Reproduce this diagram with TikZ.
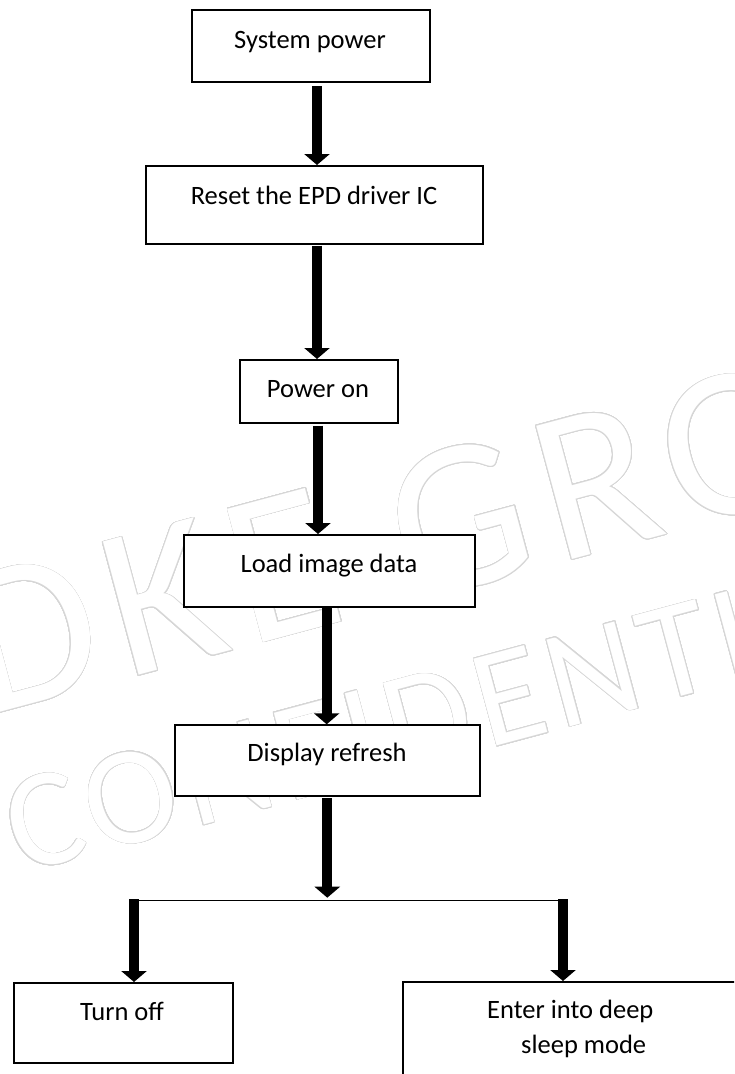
\documentclass[tikz,border=0pt]{standalone}
\usepackage{fontspec}
\setmainfont{Carlito}
\newfontfamily\wmA[LetterSpace=7]{Carlito}
\newfontfamily\wmB[LetterSpace=5]{Carlito}
\usepackage[copies]{contour}
\contourlength{0.75pt}
\contournumber{32}
\usetikzlibrary{arrows.meta}
\begin{document}
\begin{tikzpicture}[x=1pt,y=-1pt,
  box/.style={draw=black, line width=2pt, fill=white, rectangle, inner sep=0pt, anchor=north west},
  lbl/.style={font=\fontsize{26.5}{32}\selectfont, inner sep=0pt, anchor=base},
  bigarrow/.style={line width=10pt, -{Triangle[width=25pt,length=11pt]}},
  thinline/.style={line width=1.5pt},
  wm/.style={inner sep=0pt, anchor=base west, rotate=15, text=white}]
\useasboundingbox (0,0) rectangle (734,1074);
\clip (0,0) rectangle (734,1074);
% watermark
\node[wm, font=\wmA\fontsize{215}{215}\selectfont] (wm1) at (-16,717) {\contour{gray!32}{DKE GROUP}};
\node[wm, font=\wmB\fontsize{140}{140}\selectfont] (wm2) at (20,874) {\contour{gray!32}{CONFIDENTIAL}};
% boxes
\node[box, minimum width=238.3pt, minimum height=72pt] (b1) at (190.7,9) {};
\node[box, minimum width=336.7pt, minimum height=77.7pt] (b2) at (145,165) {};
\node[box, minimum width=157.4pt, minimum height=62.7pt] (b3) at (239.3,359) {};
\node[box, minimum width=291pt, minimum height=71.7pt] (b4) at (183.3,534) {};
\node[box, minimum width=305pt, minimum height=70.7pt] (b5) at (174.3,724.3) {};
\node[box, minimum width=219.3pt, minimum height=80pt] (b6) at (12.7,982) {};
\node[box, minimum width=345pt, minimum height=110pt] (b7) at (401.7,981) {};
% texts
\node[lbl] (t1) at (310,48) {System power};
\node[lbl] (t2) at (314,204) {Reset the EPD driver IC};
\node[lbl] (t3) at (318,397) {Power on};
\node[lbl] (t4) at (329,572) {Load image data};
\node[lbl] (t5) at (327,761) {Display refresh};
\node[lbl] (t6) at (122,1020) {Turn off};
\node[lbl, anchor=base west] (t7) at (487,1018) {Enter into deep};
\node[lbl, anchor=base west] (t8) at (521,1053) {sleep mode};
% connectors
\coordinate (c1) at (317,0);
\coordinate (c3) at (318,0);
\coordinate (c4) at (326.7,0);
\coordinate (jl) at (134,900.7);
\coordinate (jr) at (563,900.7);
\coordinate (jm) at (327.3,900.7);
\draw[bigarrow] ([yshift=-3pt]b1.south -| c1) -- (b2.north -| c1);
\draw[bigarrow] ([yshift=-1pt]b2.south -| c1) -- (b3.north -| c1);
\draw[bigarrow] ([yshift=-2pt]b3.south -| c3) -- (b4.north -| c3);
\draw[bigarrow] (b4.south -| c4) -- (b5.north -| c4);
\draw[bigarrow] ([yshift=-1pt]b5.south -| jm) -- ([yshift=3pt]jm);
\draw[thinline] ([xshift=-5pt]jl) -- (jr);
\draw[bigarrow] ([yshift=1.5pt]jl) -- (jl |- b6.north);
\draw[bigarrow] ([yshift=1.5pt]jr) -- (jr |- b7.north);
\end{tikzpicture}
\end{document}
